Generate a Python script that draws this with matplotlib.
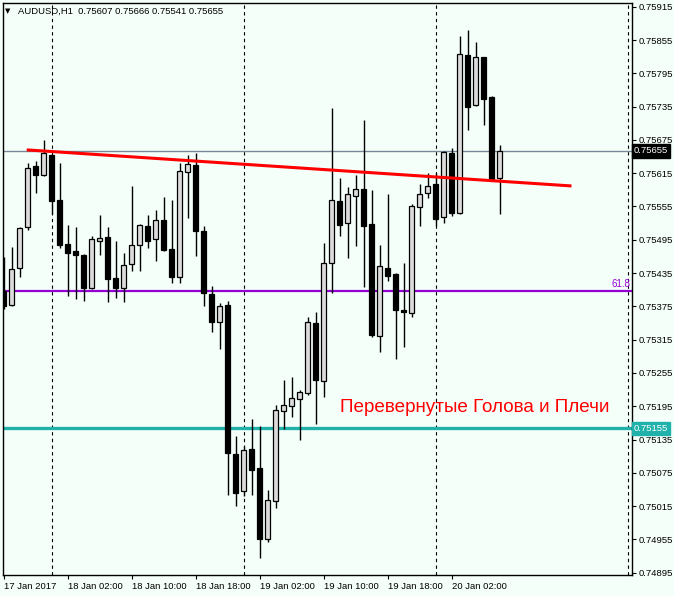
import matplotlib.pyplot as plt

# AUDUSD H1, bars from 17 Jan 18:00
opens = [0.75403, 0.75377, 0.75444, 0.75518, 0.75628, 0.75611, 0.75648, 0.75567, 0.75487, 0.75475,
         0.75468, 0.75409, 0.75493, 0.75500, 0.75427, 0.75409, 0.75451, 0.75485, 0.75520, 0.75496,
         0.75530, 0.75478, 0.75428, 0.75617, 0.75630, 0.75511, 0.75397, 0.75347, 0.75377, 0.75109,
         0.75043, 0.75118, 0.75083, 0.74956, 0.75025, 0.75187, 0.75196, 0.75208, 0.75218, 0.75345,
         0.75241, 0.75453, 0.75565, 0.75525, 0.75574, 0.75586, 0.75523, 0.75322, 0.75445, 0.75433,
         0.75368, 0.75363, 0.75554, 0.75579, 0.75596, 0.75536, 0.75651, 0.75543, 0.75828, 0.75737,
         0.75824, 0.75753, 0.75607]
highs = [0.75464, 0.75482, 0.75518, 0.75634, 0.75637, 0.75674, 0.75650, 0.75633, 0.75522, 0.75518,
         0.75469, 0.75502, 0.75540, 0.75518, 0.75493, 0.75472, 0.75592, 0.75524, 0.75540, 0.75549,
         0.75572, 0.75566, 0.75633, 0.75648, 0.75651, 0.75520, 0.75412, 0.75381, 0.75385, 0.75141,
         0.75123, 0.75172, 0.75159, 0.75044, 0.75197, 0.75242, 0.75247, 0.75224, 0.75355, 0.75365,
         0.75489, 0.75732, 0.75606, 0.75590, 0.75612, 0.75711, 0.75585, 0.75486, 0.75578, 0.75436,
         0.75454, 0.75559, 0.75596, 0.75616, 0.75616, 0.75655, 0.75661, 0.75863, 0.75873, 0.75852,
         0.75825, 0.75754, 0.75666]
lows = [0.75370, 0.75375, 0.75428, 0.75513, 0.75580, 0.75610, 0.75541, 0.75481, 0.75394, 0.75388,
        0.75385, 0.75406, 0.75468, 0.75383, 0.75390, 0.75383, 0.75438, 0.75438, 0.75481, 0.75457,
        0.75474, 0.75417, 0.75418, 0.75535, 0.75466, 0.75376, 0.75329, 0.75299, 0.75035, 0.75015,
        0.75033, 0.75035, 0.74921, 0.74951, 0.75011, 0.75154, 0.75176, 0.75135, 0.75215, 0.75163,
        0.75212, 0.75399, 0.75501, 0.75463, 0.75483, 0.75410, 0.75319, 0.75292, 0.75421, 0.75280,
        0.75302, 0.75355, 0.75519, 0.75571, 0.75519, 0.75526, 0.75538, 0.75541, 0.75692, 0.75736,
        0.75702, 0.75603, 0.75541]
closes = [0.75376, 0.75442, 0.75516, 0.75624, 0.75611, 0.75651, 0.75564, 0.75486, 0.75472, 0.75468,
          0.75409, 0.75496, 0.75498, 0.75424, 0.75409, 0.75450, 0.75486, 0.75521, 0.75493, 0.75530,
          0.75477, 0.75428, 0.75619, 0.75632, 0.75510, 0.75399, 0.75347, 0.75376, 0.75110, 0.75039,
          0.75116, 0.75080, 0.74956, 0.75026, 0.75188, 0.75197, 0.75210, 0.75220, 0.75346, 0.75242,
          0.75454, 0.75567, 0.75522, 0.75577, 0.75586, 0.75520, 0.75323, 0.75448, 0.75430, 0.75369,
          0.75364, 0.75555, 0.75577, 0.75592, 0.75532, 0.75653, 0.75544, 0.75830, 0.75735, 0.75824,
          0.75749, 0.75604, 0.75655]

time_ticks = [0, 8, 16, 24, 32, 40, 48, 56]
time_labels = ["17 Jan 2017", "18 Jan 02:00", "18 Jan 10:00", "18 Jan 18:00",
               "19 Jan 02:00", "19 Jan 10:00", "19 Jan 18:00", "20 Jan 02:00"]
day_breaks = [6, 30, 54, 78]
price_ticks = [0.74895 + 0.0006 * i for i in range(18)]

bid = 0.75655
neckline = 0.75155
fibo_level = 0.75403
trend_x = [2.9, 71.0]
trend_y = [0.75657, 0.75592]

bg = "#F5FFFA"
font = "Liberation Sans"

fig = plt.figure(figsize=(6.74, 5.96), dpi=100, facecolor=bg)
ax = fig.add_axes([2.5 / 674, 21 / 596, 629.5 / 674, 572.5 / 596], facecolor=bg)

# day separators
for d in day_breaks:
    ax.axvline(d, color="black", lw=0.8, ls=(0, (3, 3)), zorder=1)

ax.axhline(fibo_level, color="#9400D3", lw=1.6, zorder=2)
ax.axhline(neckline, color="#20B2AA", lw=2.4, zorder=2)
ax.axhline(bid, color="#778899", lw=1.0, zorder=2)

# candles
for i in range(len(opens)):
    o, h, l, c = opens[i], highs[i], lows[i], closes[i]
    ax.vlines(i, l, h, color="black", lw=1.0, zorder=3)
    up = c >= o
    ax.bar(i, abs(c - o) if abs(c - o) > 0.000015 else 0.000015, bottom=min(o, c), width=0.58,
           color="#DCDCDC" if up else "black", edgecolor="black", lw=0.9, zorder=4)

ax.plot(trend_x, trend_y, color="red", lw=2.2, zorder=5, solid_capstyle="butt")

ax.text(0.9968, fibo_level + 0.00003, "61.8", color="#9400D3",
        fontsize=7, family=font, ha="right", va="bottom", transform=ax.get_yaxis_transform())

ax.text(42.0, 0.75192, "Перевернутые Голова и Плечи", color="red", fontsize=13.6,
        family=font, ha="left", va="center", zorder=6)

ax.set_xlim(-0.125, 78.56)
ax.set_ylim(0.748909, 0.759226)

ax.set_xticks(time_ticks)
ax.set_xticklabels(time_labels, ha="left", fontsize=6.8, family=font)
ax.set_yticks(price_ticks)
ax.set_yticklabels(["%.5f" % p for p in price_ticks], fontsize=6.8, family=font)
ax.yaxis.tick_right()
ax.tick_params(axis="both", direction="out", length=3, width=0.8, pad=1.5, colors="black")
ax.tick_params(axis="x", pad=2)
for s in ax.spines.values():
    s.set_linewidth(1.0)

# price labels on the right scale
ax.text(1.003, bid, "0.75655", transform=ax.get_yaxis_transform(), fontsize=6.8, family=font,
        color="white", va="center", ha="left", zorder=10, clip_on=False,
        bbox=dict(boxstyle="square,pad=0.25", fc="black", ec="black"))
ax.text(1.003, neckline, "0.75155", transform=ax.get_yaxis_transform(), fontsize=6.8, family=font,
        color="white", va="center", ha="left", zorder=10, clip_on=False,
        bbox=dict(boxstyle="square,pad=0.25", fc="#20B2AA", ec="#20B2AA"))

# header
fig.text(5 / 674, 1 - 11 / 596, "▼", fontsize=5, family="DejaVu Sans", va="center", ha="left")
fig.text(18 / 674, 1 - 11 / 596, "AUDUSD,H1  0.75607 0.75666 0.75541 0.75655",
         fontsize=6.8, family=font, va="center", ha="left")

fig.savefig("out.png", dpi=100, facecolor=bg)
